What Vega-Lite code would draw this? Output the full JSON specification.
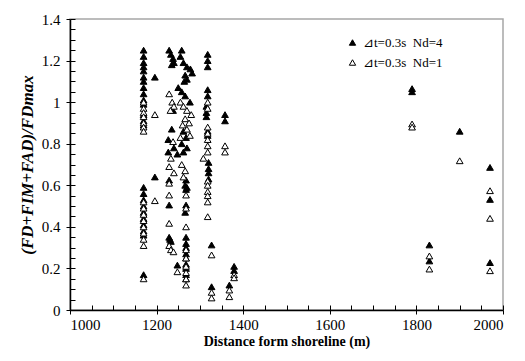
{
"$schema":"https://vega.github.io/schema/vega-lite/v6.json",
"width":433,"height":291,
"autosize":"none",
"padding":{"left":70,"top":19,"right":22,"bottom":51},
"background":"white",
"config":{"view":{"stroke":"#a6a6a6","strokeWidth":1.5},"font":"Liberation Serif"},
"data":{"values":[
{"d":1170,"r":1.25,"s":"Nd=4"},{"d":1170,"r":1.22,"s":"Nd=4"},{"d":1170,"r":1.19,"s":"Nd=4"},{"d":1170,"r":1.17,"s":"Nd=4"},{"d":1170,"r":1.15,"s":"Nd=4"},{"d":1170,"r":1.12,"s":"Nd=4"},{"d":1170,"r":1.10,"s":"Nd=4"},{"d":1170,"r":1.07,"s":"Nd=4"},{"d":1170,"r":1.04,"s":"Nd=4"},{"d":1170,"r":1.01,"s":"Nd=4"},{"d":1170,"r":0.99,"s":"Nd=4"},{"d":1170,"r":0.94,"s":"Nd=4"},{"d":1170,"r":0.91,"s":"Nd=4"},{"d":1170,"r":0.89,"s":"Nd=4"},{"d":1170,"r":0.59,"s":"Nd=4"},{"d":1170,"r":0.56,"s":"Nd=4"},{"d":1170,"r":0.53,"s":"Nd=4"},{"d":1170,"r":0.50,"s":"Nd=4"},{"d":1170,"r":0.47,"s":"Nd=4"},{"d":1170,"r":0.44,"s":"Nd=4"},{"d":1170,"r":0.41,"s":"Nd=4"},{"d":1170,"r":0.38,"s":"Nd=4"},{"d":1170,"r":0.36,"s":"Nd=4"},{"d":1170,"r":0.17,"s":"Nd=4"},
{"d":1196,"r":1.12,"s":"Nd=4"},{"d":1196,"r":0.64,"s":"Nd=4"},
{"d":1229,"r":1.25,"s":"Nd=4"},{"d":1233,"r":1.23,"s":"Nd=4"},{"d":1238,"r":1.21,"s":"Nd=4"},{"d":1240,"r":1.19,"s":"Nd=4"},{"d":1235,"r":1.18,"s":"Nd=4"},{"d":1238,"r":0.96,"s":"Nd=4"},{"d":1235,"r":0.87,"s":"Nd=4"},{"d":1227,"r":0.82,"s":"Nd=4"},{"d":1240,"r":0.78,"s":"Nd=4"},{"d":1227,"r":0.76,"s":"Nd=4"},{"d":1229,"r":0.625,"s":"Nd=4"},{"d":1229,"r":0.505,"s":"Nd=4"},{"d":1229,"r":0.35,"s":"Nd=4"},{"d":1231,"r":0.34,"s":"Nd=4"},{"d":1233,"r":0.33,"s":"Nd=4"},{"d":1248,"r":0.216,"s":"Nd=4"},
{"d":1258,"r":1.25,"s":"Nd=4"},{"d":1255,"r":1.22,"s":"Nd=4"},{"d":1262,"r":1.19,"s":"Nd=4"},{"d":1270,"r":1.17,"s":"Nd=4"},{"d":1278,"r":1.16,"s":"Nd=4"},{"d":1282,"r":1.14,"s":"Nd=4"},{"d":1266,"r":1.13,"s":"Nd=4"},{"d":1270,"r":1.11,"s":"Nd=4"},{"d":1264,"r":1.10,"s":"Nd=4"},{"d":1250,"r":1.07,"s":"Nd=4"},{"d":1258,"r":1.05,"s":"Nd=4"},{"d":1266,"r":1.03,"s":"Nd=4"},{"d":1277,"r":1.0,"s":"Nd=4"},{"d":1262,"r":0.86,"s":"Nd=4"},{"d":1268,"r":0.83,"s":"Nd=4"},{"d":1258,"r":0.80,"s":"Nd=4"},{"d":1270,"r":0.78,"s":"Nd=4"},{"d":1262,"r":0.76,"s":"Nd=4"},{"d":1248,"r":0.75,"s":"Nd=4"},{"d":1268,"r":0.625,"s":"Nd=4"},{"d":1270,"r":0.59,"s":"Nd=4"},{"d":1266,"r":0.60,"s":"Nd=4"},{"d":1268,"r":0.58,"s":"Nd=4"},{"d":1268,"r":0.505,"s":"Nd=4"},{"d":1266,"r":0.47,"s":"Nd=4"},{"d":1268,"r":0.35,"s":"Nd=4"},{"d":1268,"r":0.32,"s":"Nd=4"},{"d":1268,"r":0.30,"s":"Nd=4"},{"d":1268,"r":0.27,"s":"Nd=4"},{"d":1268,"r":0.25,"s":"Nd=4"},{"d":1268,"r":0.22,"s":"Nd=4"},{"d":1268,"r":0.20,"s":"Nd=4"},{"d":1268,"r":0.17,"s":"Nd=4"},{"d":1268,"r":0.15,"s":"Nd=4"},
{"d":1318,"r":1.23,"s":"Nd=4"},{"d":1318,"r":1.20,"s":"Nd=4"},{"d":1318,"r":1.17,"s":"Nd=4"},{"d":1318,"r":1.06,"s":"Nd=4"},{"d":1318,"r":1.03,"s":"Nd=4"},{"d":1315,"r":0.98,"s":"Nd=4"},{"d":1315,"r":0.95,"s":"Nd=4"},{"d":1315,"r":0.93,"s":"Nd=4"},{"d":1318,"r":0.86,"s":"Nd=4"},{"d":1318,"r":0.84,"s":"Nd=4"},{"d":1320,"r":0.71,"s":"Nd=4"},{"d":1320,"r":0.68,"s":"Nd=4"},{"d":1320,"r":0.66,"s":"Nd=4"},{"d":1320,"r":0.63,"s":"Nd=4"},{"d":1327,"r":0.313,"s":"Nd=4"},{"d":1327,"r":0.112,"s":"Nd=4"},
{"d":1358,"r":0.94,"s":"Nd=4"},{"d":1358,"r":0.91,"s":"Nd=4"},{"d":1368,"r":0.12,"s":"Nd=4"},{"d":1379,"r":0.21,"s":"Nd=4"},{"d":1379,"r":0.19,"s":"Nd=4"},
{"d":1790,"r":1.065,"s":"Nd=4"},{"d":1790,"r":1.05,"s":"Nd=4"},{"d":1830,"r":0.313,"s":"Nd=4"},{"d":1830,"r":0.236,"s":"Nd=4"},{"d":1900,"r":0.86,"s":"Nd=4"},{"d":1970,"r":0.686,"s":"Nd=4"},{"d":1970,"r":0.532,"s":"Nd=4"},{"d":1970,"r":0.228,"s":"Nd=4"},
{"d":1170,"r":1.0,"s":"Nd=1"},{"d":1170,"r":0.97,"s":"Nd=1"},{"d":1170,"r":0.95,"s":"Nd=1"},{"d":1170,"r":0.93,"s":"Nd=1"},{"d":1170,"r":0.90,"s":"Nd=1"},{"d":1170,"r":0.88,"s":"Nd=1"},{"d":1170,"r":0.86,"s":"Nd=1"},{"d":1170,"r":0.52,"s":"Nd=1"},{"d":1170,"r":0.49,"s":"Nd=1"},{"d":1170,"r":0.46,"s":"Nd=1"},{"d":1170,"r":0.43,"s":"Nd=1"},{"d":1170,"r":0.40,"s":"Nd=1"},{"d":1170,"r":0.37,"s":"Nd=1"},{"d":1170,"r":0.34,"s":"Nd=1"},{"d":1170,"r":0.31,"s":"Nd=1"},{"d":1170,"r":0.15,"s":"Nd=1"},
{"d":1196,"r":0.94,"s":"Nd=1"},{"d":1196,"r":0.526,"s":"Nd=1"},
{"d":1229,"r":1.04,"s":"Nd=1"},{"d":1236,"r":1.0,"s":"Nd=1"},{"d":1240,"r":0.98,"s":"Nd=1"},{"d":1232,"r":0.96,"s":"Nd=1"},{"d":1238,"r":0.81,"s":"Nd=1"},{"d":1233,"r":0.73,"s":"Nd=1"},{"d":1229,"r":0.69,"s":"Nd=1"},{"d":1240,"r":0.66,"s":"Nd=1"},{"d":1229,"r":0.61,"s":"Nd=1"},{"d":1229,"r":0.553,"s":"Nd=1"},{"d":1229,"r":0.417,"s":"Nd=1"},{"d":1229,"r":0.31,"s":"Nd=1"},{"d":1233,"r":0.29,"s":"Nd=1"},{"d":1239,"r":0.28,"s":"Nd=1"},{"d":1248,"r":0.184,"s":"Nd=1"},
{"d":1255,"r":1.0,"s":"Nd=1"},{"d":1262,"r":0.98,"s":"Nd=1"},{"d":1270,"r":0.96,"s":"Nd=1"},{"d":1280,"r":0.94,"s":"Nd=1"},{"d":1266,"r":0.92,"s":"Nd=1"},{"d":1275,"r":0.90,"s":"Nd=1"},{"d":1260,"r":0.89,"s":"Nd=1"},{"d":1270,"r":0.87,"s":"Nd=1"},{"d":1277,"r":0.84,"s":"Nd=1"},{"d":1255,"r":0.83,"s":"Nd=1"},{"d":1258,"r":0.70,"s":"Nd=1"},{"d":1266,"r":0.67,"s":"Nd=1"},{"d":1262,"r":0.64,"s":"Nd=1"},{"d":1268,"r":0.553,"s":"Nd=1"},{"d":1268,"r":0.49,"s":"Nd=1"},{"d":1268,"r":0.40,"s":"Nd=1"},{"d":1268,"r":0.29,"s":"Nd=1"},{"d":1268,"r":0.25,"s":"Nd=1"},{"d":1268,"r":0.21,"s":"Nd=1"},{"d":1268,"r":0.18,"s":"Nd=1"},{"d":1268,"r":0.15,"s":"Nd=1"},{"d":1268,"r":0.12,"s":"Nd=1"},
{"d":1318,"r":1.0,"s":"Nd=1"},{"d":1318,"r":0.97,"s":"Nd=1"},{"d":1318,"r":0.88,"s":"Nd=1"},{"d":1318,"r":0.85,"s":"Nd=1"},{"d":1318,"r":0.82,"s":"Nd=1"},{"d":1318,"r":0.79,"s":"Nd=1"},{"d":1318,"r":0.76,"s":"Nd=1"},{"d":1308,"r":0.73,"s":"Nd=1"},{"d":1318,"r":0.62,"s":"Nd=1"},{"d":1318,"r":0.60,"s":"Nd=1"},{"d":1318,"r":0.57,"s":"Nd=1"},{"d":1318,"r":0.55,"s":"Nd=1"},{"d":1318,"r":0.52,"s":"Nd=1"},{"d":1318,"r":0.449,"s":"Nd=1"},
{"d":1327,"r":0.265,"s":"Nd=1"},{"d":1327,"r":0.085,"s":"Nd=1"},{"d":1327,"r":0.058,"s":"Nd=1"},{"d":1358,"r":0.79,"s":"Nd=1"},{"d":1358,"r":0.76,"s":"Nd=1"},{"d":1368,"r":0.096,"s":"Nd=1"},{"d":1368,"r":0.064,"s":"Nd=1"},{"d":1379,"r":0.17,"s":"Nd=1"},{"d":1379,"r":0.155,"s":"Nd=1"},
{"d":1790,"r":0.895,"s":"Nd=1"},{"d":1790,"r":0.88,"s":"Nd=1"},{"d":1830,"r":0.26,"s":"Nd=1"},{"d":1830,"r":0.197,"s":"Nd=1"},{"d":1900,"r":0.718,"s":"Nd=1"},{"d":1970,"r":0.574,"s":"Nd=1"},{"d":1970,"r":0.441,"s":"Nd=1"},{"d":1970,"r":0.189,"s":"Nd=1"}
]},
"resolve":{"axis":{"x":"independent","y":"independent"}},
"layer":[
{"mark":{"type":"point","opacity":0},
 "encoding":{
  "x":{"field":"d","type":"quantitative","scale":{"domain":[1000,2000],"nice":false,"zero":false},
   "axis":{"orient":"bottom","offset":-5,"values":[1000,1050,1100,1150,1200,1250,1300,1350,1400,1450,1500,1550,1600,1650,1700,1750,1800,1850,1900,1950,2000],"labels":false,"domain":false,"grid":false,"tickSize":5,"tickColor":"black","tickWidth":1,"title":null}},
  "y":{"field":"r","type":"quantitative","scale":{"domain":[0,1.4],"nice":false},
   "axis":{"orient":"left","offset":-5,"values":[0,0.05,0.1,0.15,0.2,0.25,0.3,0.35,0.4,0.45,0.5,0.55,0.6,0.65,0.7,0.75,0.8,0.85,0.9,0.95,1,1.05,1.1,1.15,1.2,1.25,1.3,1.35,1.4],"labels":false,"domain":false,"grid":false,"tickSize":5,"tickColor":"black","tickWidth":1,"title":null}}
 }},
{"mark":{"type":"point","shape":"triangle-up","filled":true,"stroke":"black","strokeWidth":1,"size":45,"opacity":1},
 "encoding":{
  "x":{"field":"d","type":"quantitative","scale":{"domain":[1000,2000],"nice":false,"zero":false},
   "axis":{"orient":"bottom","values":[1000,1200,1400,1600,1800,2000],"format":"d","grid":false,"domainColor":"black","domainWidth":1.5,"tickColor":"black","tickSize":4,"labelFontSize":15,"labelColor":"black","labelFont":"Liberation Serif","labelPadding":3,"title":"Distance form shoreline (m)","titleFont":"Liberation Serif","titleFontSize":14,"titleFontWeight":"bold","titleColor":"black","titlePadding":2}},
  "y":{"field":"r","type":"quantitative","scale":{"domain":[0,1.4],"nice":false},
   "axis":{"orient":"left","values":[0,0.2,0.4,0.6,0.8,1,1.2,1.4],"format":"~g","grid":false,"domainColor":"black","domainWidth":1.5,"tickColor":"black","tickSize":4,"labelFontSize":15,"labelColor":"black","labelFont":"Liberation Serif","labelPadding":6,"title":"(FD+FIM+FAD)/FDmax","titleFont":"Liberation Serif","titleFontSize":17,"titleFontWeight":"bold","titleFontStyle":"italic","titleColor":"black","titlePadding":5}},
  "fill":{"field":"s","type":"nominal","scale":{"domain":["Nd=4","Nd=1"],"range":["black","white"]},
   "legend":{"orient":"none","legendX":276,"legendY":17,"title":null,"symbolType":"triangle-up","symbolSize":40,"symbolStrokeColor":"black","symbolStrokeWidth":1,"labelFont":"Liberation Serif","labelFontSize":13,"labelColor":"black","rowPadding":6,"labelExpr":"'⊿t=0.3s\u00a0\u00a0' + datum.label"}}
 }}
]
}
